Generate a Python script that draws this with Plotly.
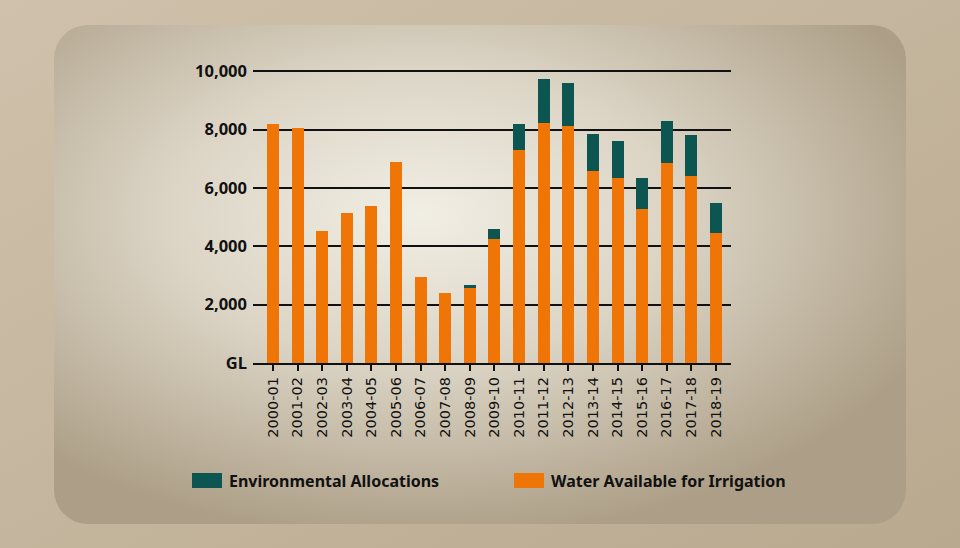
import base64
import plotly.graph_objects as go

seasons = ["2000-01", "2001-02", "2002-03", "2003-04", "2004-05", "2005-06",
           "2006-07", "2007-08", "2008-09", "2009-10", "2010-11", "2011-12",
           "2012-13", "2013-14", "2014-15", "2015-16", "2016-17", "2017-18",
           "2018-19"]

# GL
irrigation = [8180, 8040, 4520, 5140, 5380, 6880, 2940, 2400, 2570, 4240,
              7310, 8230, 8120, 6590, 6350, 5280, 6850, 6420, 4470]
environmental = [0, 0, 0, 0, 0, 0, 0, 0, 100, 360,
                 880, 1500, 1470, 1260, 1270, 1060, 1450, 1390, 1010]

y_ticks = [0, 2000, 4000, 6000, 8000, 10000]
y_tick_text = ["GL", "2,000", "4,000", "6,000", "8,000", "10,000"]

ORANGE = "#ef7506"
TEAL = "#0d5550"

W, H = 960, 548
L, R, T, B = 253, 229, 70, 185
PW, PH = W - L - R, H - T - B


def px_x(x):
    return (x - L) / PW


def px_y(y):
    return (H - B - y) / PH


# rounded panel with a soft radial glow, drawn as an svg background
svg = """<svg xmlns='http://www.w3.org/2000/svg' width='960' height='548' viewBox='0 0 960 548'>
<defs>
<radialGradient id='g' cx='0.43' cy='0.38' r='0.65'>
<stop offset='0' stop-color='#f1eee4'/>
<stop offset='0.45' stop-color='#dcd5c6'/>
<stop offset='1' stop-color='#ad9f87'/>
</radialGradient>
<linearGradient id='o' x1='0' y1='0' x2='1' y2='1'>
<stop offset='0' stop-color='#d0c1ac'/>
<stop offset='1' stop-color='#b9a98f'/>
</linearGradient>
</defs>
<rect width='960' height='548' fill='url(#o)'/>
<rect x='54' y='25' width='852' height='499' rx='34' ry='34' fill='url(#g)'/>
</svg>"""
bg = "data:image/svg+xml;base64," + base64.b64encode(svg.encode()).decode()

fig = go.Figure()
fig.add_trace(go.Bar(x=seasons, y=irrigation, name="Water Available for Irrigation",
                     marker=dict(color=ORANGE, line=dict(width=0))))
fig.add_trace(go.Bar(x=seasons, y=environmental, name="Environmental Allocations",
                     marker=dict(color=TEAL, line=dict(width=0))))

fig.update_layout(
    width=W, height=H,
    margin=dict(l=L, r=R, t=T, b=B),
    barmode="stack", bargap=0.51,
    showlegend=False,
    paper_bgcolor="#c8b8a0",
    plot_bgcolor="rgba(0,0,0,0)",
    font=dict(family="Noto Sans", color="#111111"),
    images=[dict(source=bg, xref="paper", yref="paper", x=px_x(0), y=px_y(0),
                 sizex=W / PW, sizey=H / PH, xanchor="left", yanchor="top",
                 sizing="stretch", layer="below")],
)

fig.update_xaxes(
    type="category", range=[-0.81, 18.61],
    showgrid=False, showline=True, linecolor="#111111", linewidth=2,
    ticks="outside", ticklen=6, tickwidth=2, tickcolor="#111111",
    tickangle=-90, tickfont=dict(family="DejaVu Sans", size=14.6, color="#111111"),
)
fig.update_yaxes(
    range=[0, 10040], tickvals=y_ticks, ticktext=y_tick_text,
    showgrid=True, gridcolor="#111111", gridwidth=1.6,
    zeroline=False, showline=False, ticks="", ticklabelstandoff=5,
    tickfont=dict(family="Noto Sans", size=16.5, color="#111111", weight="bold"),
)

# legend drawn by hand so the swatches keep their wide shape
legend_items = [("Environmental Allocations", TEAL, 192), ("Water Available for Irrigation", ORANGE, 514)]
for label, colour, left in legend_items:
    fig.add_shape(type="rect", xref="paper", yref="paper",
                  x0=px_x(left), x1=px_x(left + 30), y0=px_y(488), y1=px_y(473),
                  fillcolor=colour, line=dict(width=0))
    fig.add_annotation(text=label, xref="paper", yref="paper", showarrow=False,
                       x=px_x(left + 35), y=px_y(480.5), xanchor="left", yanchor="middle",
                       font=dict(family="Noto Sans", size=16, color="#111111", weight="bold"))

fig.write_html("out.html", config={"displayModeBar": False},
               post_script="document.body.style.margin='0';")
